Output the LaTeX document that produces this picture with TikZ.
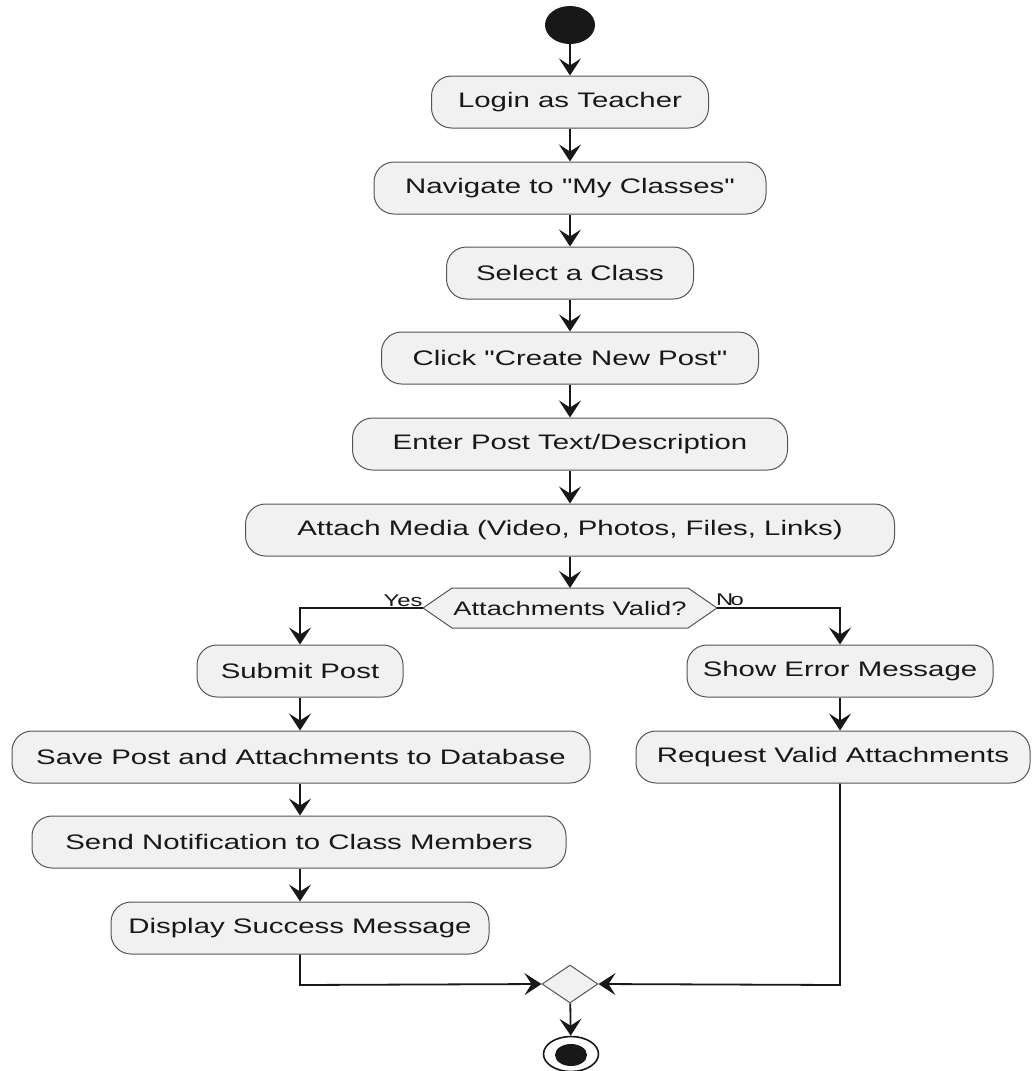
\documentclass[tikz,border=0pt]{standalone}
\usepackage{fontspec}
\setmainfont[FakeStretch=1.4, Ligatures=TeXOff]{Liberation Sans}
\usetikzlibrary{shapes.geometric,arrows.meta}
\definecolor{boxfill}{HTML}{F1F1F1}
\definecolor{boxline}{HTML}{555555}
\definecolor{ink}{HTML}{181818}
\begin{document}
\begin{tikzpicture}[x=1pt,y=-1pt,
  act/.style={draw=boxline, fill=boxfill, line width=1pt, rounded corners=20pt,
    minimum height=52pt, inner sep=0pt, text=ink,
    font=\fontsize{21pt}{25pt}\selectfont},
  flow/.style={draw=ink, line width=1.8pt,
    -{Stealth[length=17pt,width=22pt,inset=7pt]}},
  lbl/.style={font=\fontsize{17pt}{19pt}\selectfont, inner sep=0pt, text=ink, anchor=base}]
\useasboundingbox (0,0) rectangle (1034,1071);

% start
\node[ellipse, fill=ink, minimum width=50pt, minimum height=38pt, inner sep=0pt] (start) at (570,25) {};

% main sequence
\node[act, minimum width=277pt] (login)  at (570,102) {Login as Teacher};
\node[act, minimum width=392pt] (nav)    at (570,188) {Navigate to "My Classes"};
\node[act, minimum width=247pt] (sel)    at (570,273) {Select a Class};
\node[act, minimum width=377pt] (create) at (570,358) {Click "Create New Post"};
\node[act, minimum width=435pt] (enter)  at (570,444) {Enter Post Text/Description};
\node[act, minimum width=649pt] (attach) at (570,530) {Attach Media (Video, Photos, Files, Links)};

% decision
\filldraw[draw=boxline, fill=boxfill, line width=1pt]
  (423,608) -- (452,588) -- (688,588) -- (717,608) -- (688,628) -- (452,628) -- cycle;
\node[minimum width=294pt, minimum height=40pt, inner sep=0pt, text=ink,
  font=\fontsize{19.5pt}{22pt}\selectfont] (dec) at (570,609) {Attachments Valid?};
\node[lbl] (yes) at (403,606) {Yes};
\node[lbl] (no) at (730,605) {N\kern-2.5pt o};

% left branch
\node[act, minimum width=206pt] (submit)  at (300,671) {Submit Post};
\node[act, minimum width=578pt] (save)    at (301,757) {Save Post and Attachments to Database};
\node[act, minimum width=534pt] (notify)  at (299,842) {Send Notification to Class Members};
\node[act, minimum width=378pt] (display) at (300,928) {Display Success Message};

% right branch
\node[act, minimum width=306pt] (err) at (840,671) {Show Error Message};
\node[act, minimum width=394pt] (req) at (833,757) {Request Valid Attachments};

% merge and end
\node[diamond, draw=boxline, fill=boxfill, line width=1pt, minimum width=56pt,
  minimum height=38pt, inner sep=0pt] (merge) at (570,984) {};
\node[ellipse, draw=ink, line width=1.6pt, fill=white, minimum width=55pt,
  minimum height=35pt, inner sep=0pt] (stop) at (571,1054) {};
\node[ellipse, fill=ink, minimum width=32pt, minimum height=22pt, inner sep=0pt] (stopin) at (571,1055) {};

\coordinate (yesturn) at (300,608);
\coordinate (noturn) at (840,608);
\coordinate (lbend) at (300,985);
\coordinate (rbend) at (840,985);

% connectors
\draw[flow] (start) -- (login);
\draw[flow] (login) -- (nav);
\draw[flow] (nav) -- (sel);
\draw[flow] (sel) -- (create);
\draw[flow] (create) -- (enter);
\draw[flow] (enter) -- (attach);
\draw[flow] (attach) -- (570,588);
\draw[flow] (423,608) -- (yesturn) -- (submit.north -| yesturn);
\draw[flow] (717,608) -- (noturn) -- (err.north -| noturn);
\draw[flow] (submit.south -| yesturn) -- (save.north -| yesturn);
\draw[flow] (save.south -| yesturn) -- (notify.north -| yesturn);
\draw[flow] (notify.south -| yesturn) -- (display.north -| yesturn);
\draw[flow] (err.south -| noturn) -- (req.north -| noturn);
\draw[flow] (display.south -| lbend) -- (lbend) -- (merge.west);
\draw[flow] (req.south -| rbend) -- (rbend) -- (merge.east);
\draw[flow] (merge) -- (stop);
\end{tikzpicture}
\end{document}
